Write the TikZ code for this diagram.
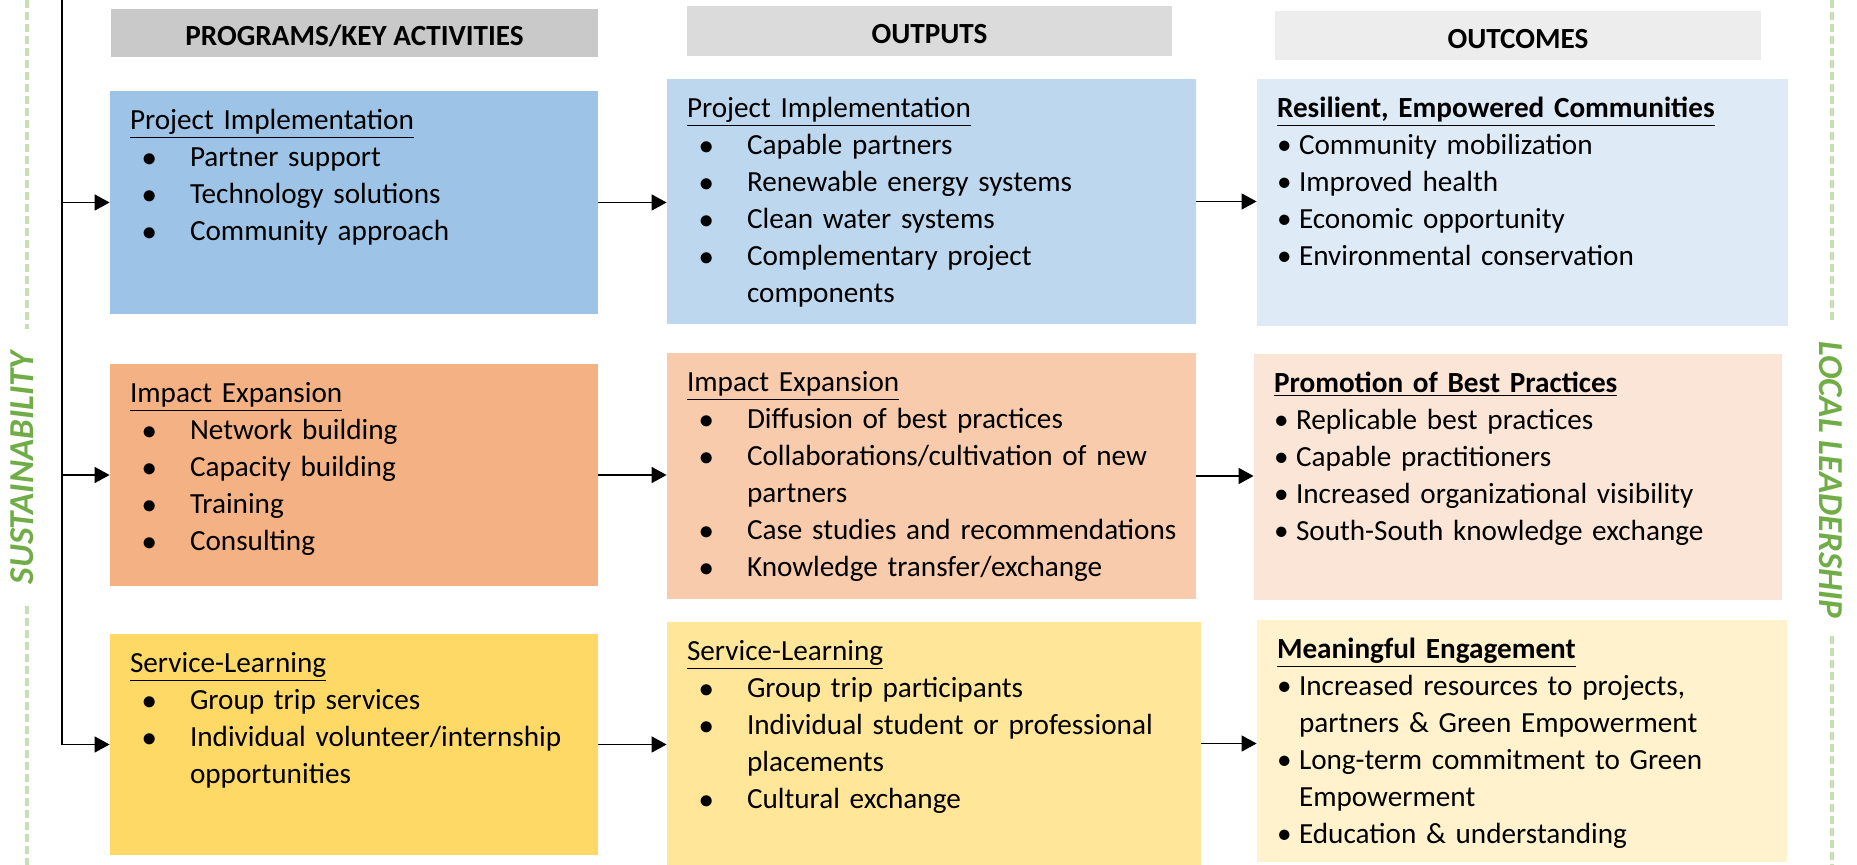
\documentclass[tikz,border=0pt]{standalone}
\usepackage{fontspec}
\setmainfont{Carlito}
\usepackage{xcolor}
\usetikzlibrary{arrows.meta}
\definecolor{headA}{HTML}{C9C9C9}
\definecolor{headB}{HTML}{DBDBDB}
\definecolor{headC}{HTML}{EDEDED}
\definecolor{blueA}{HTML}{9DC3E6}
\definecolor{blueB}{HTML}{BDD7EE}
\definecolor{blueC}{HTML}{DEEBF7}
\definecolor{orangeA}{HTML}{F4B183}
\definecolor{orangeB}{HTML}{F8CBAD}
\definecolor{orangeC}{HTML}{FBE5D6}
\definecolor{yellowA}{HTML}{FFD966}
\definecolor{yellowB}{HTML}{FFE699}
\definecolor{yellowC}{HTML}{FFF2CC}
\definecolor{labelgreen}{HTML}{70AD47}
\definecolor{guidegreen}{HTML}{C5E0B4}
\newcommand{\bodyfont}{\fontsize{14.6}{18.5}\selectfont}
\newcommand{\sidefont}{\fontsize{17.5}{20}\selectfont\bfseries\itshape}
\newcommand{\lsttitle}[1]{\noindent\underline{#1}\par}
\newcommand{\lstitem}[1]{\hangindent=30pt\hangafter=1\noindent\hbox to 30pt{\hspace*{6pt}$\bullet$\hfil}#1\par}
\newcommand{\restitle}[1]{\noindent\textbf{\underline{#1}}\par}
\newcommand{\resitem}[1]{\hangindent=11pt\hangafter=1\noindent\hbox to 11pt{\textbullet\hfil}#1\par}
\tikzstyle{heading} = [rectangle, inner sep=0pt, text height=12.9pt, text depth=0pt, text centered, font=\bodyfont\bfseries]
\tikzstyle{stage} = [rectangle, inner sep=0pt, draw=none]
\tikzstyle{entries} = [inner sep=0pt, anchor=base west, align=left, font=\bodyfont]
\tikzstyle{arrow} = [line width=0.75pt, -{Triangle[length=7.5pt,width=8pt]}]
\tikzstyle{guide} = [line width=1.75pt, guidegreen, dash pattern=on 4pt off 2pt]
\tikzstyle{sidelabel} = [inner sep=0pt, text=labelgreen, font=\sidefont]

\begin{document}
\begin{tikzpicture}[x=0.5pt, y=-0.5pt]
  \useasboundingbox (0,0) rectangle (1857,865);

  % column headings
  \node (hdact) [heading, fill=headA, minimum width=243.5pt, minimum height=24pt] at (354.5,33) {PROGRAMS/KEY ACTIVITIES};
  \node (hdout) [heading, fill=headB, minimum width=242.5pt, minimum height=25pt] at (929.5,31) {OUTPUTS};
  \node (hdres) [heading, fill=headC, minimum width=243pt, minimum height=24.5pt] at (1518,35.5) {OUTCOMES};

  % boxes
  \node (act1) [stage, fill=blueA, minimum width=244pt, minimum height=111.5pt] at (354,202.5) {};
  \node (out1) [stage, fill=blueB, minimum width=264.5pt, minimum height=122.5pt] at (931.5,201.5) {};
  \node (res1) [stage, fill=blueC, minimum width=265.5pt, minimum height=123.5pt] at (1522.5,202.5) {};
  \node (act2) [stage, fill=orangeA, minimum width=244pt, minimum height=111pt] at (354,475) {};
  \node (out2) [stage, fill=orangeB, minimum width=264.5pt, minimum height=123pt] at (931.5,476) {};
  \node (res2) [stage, fill=orangeC, minimum width=264pt, minimum height=123pt] at (1518,477) {};
  \node (act3) [stage, fill=yellowA, minimum width=244pt, minimum height=110.5pt] at (354,744.5) {};
  \node (out3) [stage, fill=yellowB, minimum width=267pt, minimum height=121.5pt] at (934,743.5) {};
  \node (res3) [stage, fill=yellowC, minimum width=265pt, minimum height=121pt] at (1522,741) {};

  % box texts
  \node (act1txt) [entries, text width=234pt] at ([shift={(20,39)}]act1.north west) {%
    \lsttitle{Project Implementation}\lstitem{Partner support}\lstitem{Technology solutions}\lstitem{Community approach}};
  \node (out1txt) [entries, text width=254pt] at ([shift={(20,39)}]out1.north west) {%
    \lsttitle{Project Implementation}\lstitem{Capable partners}\lstitem{Renewable energy systems}\lstitem{Clean water systems}\lstitem{Complementary project\newline components}};
  \node (res1txt) [entries, text width=255pt] at ([shift={(20,39)}]res1.north west) {%
    \restitle{Resilient, Empowered Communities}\resitem{Community mobilization}\resitem{Improved health}\resitem{Economic opportunity}\resitem{Environmental conservation}};
  \node (act2txt) [entries, text width=234pt] at ([shift={(20,39)}]act2.north west) {%
    \lsttitle{Impact Expansion}\lstitem{Network building}\lstitem{Capacity building}\lstitem{Training}\lstitem{Consulting}};
  \node (out2txt) [entries, text width=254pt] at ([shift={(20,39)}]out2.north west) {%
    \lsttitle{Impact Expansion}\lstitem{Diffusion of best practices}\lstitem{Collaborations/cultivation of new\newline partners}\lstitem{Case studies and recommendations}\lstitem{Knowledge transfer/exchange}};
  \node (res2txt) [entries, text width=254pt] at ([shift={(20,39)}]res2.north west) {%
    \restitle{Promotion of Best Practices}\resitem{Replicable best practices}\resitem{Capable practitioners}\resitem{Increased organizational visibility}\resitem{South-South knowledge exchange}};
  \node (act3txt) [entries, text width=234pt] at ([shift={(20,39)}]act3.north west) {%
    \lsttitle{Service-Learning}\lstitem{Group trip services}\lstitem{Individual volunteer/internship\newline opportunities}};
  \node (out3txt) [entries, text width=256pt] at ([shift={(20,39)}]out3.north west) {%
    \lsttitle{Service-Learning}\lstitem{Group trip participants}\lstitem{Individual student or professional\newline placements}\lstitem{Cultural exchange}};
  \node (res3txt) [entries, text width=255pt] at ([shift={(20,39)}]res3.north west) {%
    \restitle{Meaningful Engagement}\resitem{Increased resources to projects,\newline partners \& Green Empowerment}\resitem{Long-term commitment to Green\newline Empowerment}\resitem{Education \& understanding}};

  % side labels
  \node (sust) [sidelabel, rotate=90, outer xsep=11pt] at (22,467.5) {SUSTAINABILITY};
  \node (lead) [sidelabel, rotate=-90, outer xsep=9pt] at (1831,480) {LOCAL LEADERSHIP};
  \coordinate (ltop) at (27,0);
  \coordinate (lbot) at (27,865);
  \coordinate (rtop) at (1832,0);
  \coordinate (rbot) at (1832,865);
  \draw [guide] (ltop) -- (ltop |- sust.east);
  \draw [guide] (lbot |- sust.west) -- (lbot);
  \draw [guide] (rtop) -- (rtop |- lead.west);
  \draw [guide] (rbot |- lead.east) -- (rbot);

  % connectors
  \coordinate (spine) at (62,0);
  \draw [arrow] (spine) |- (act3.west);
  \draw [arrow] (spine |- act1.west) -- (act1.west);
  \draw [arrow] (spine |- act2.west) -- (act2.west);
  \draw [arrow] (act1.east) -- (act1.east -| out1.west);
  \draw [arrow] (act2.east) -- (act2.east -| out2.west);
  \draw [arrow] (act3.east) -- (act3.east -| out3.west);
  \draw [arrow] (out1.east) -- (out1.east -| res1.west);
  \draw [arrow] (out2.east) -- (out2.east -| res2.west);
  \draw [arrow] (out3.east) -- (out3.east -| res3.west);
\end{tikzpicture}
\end{document}
